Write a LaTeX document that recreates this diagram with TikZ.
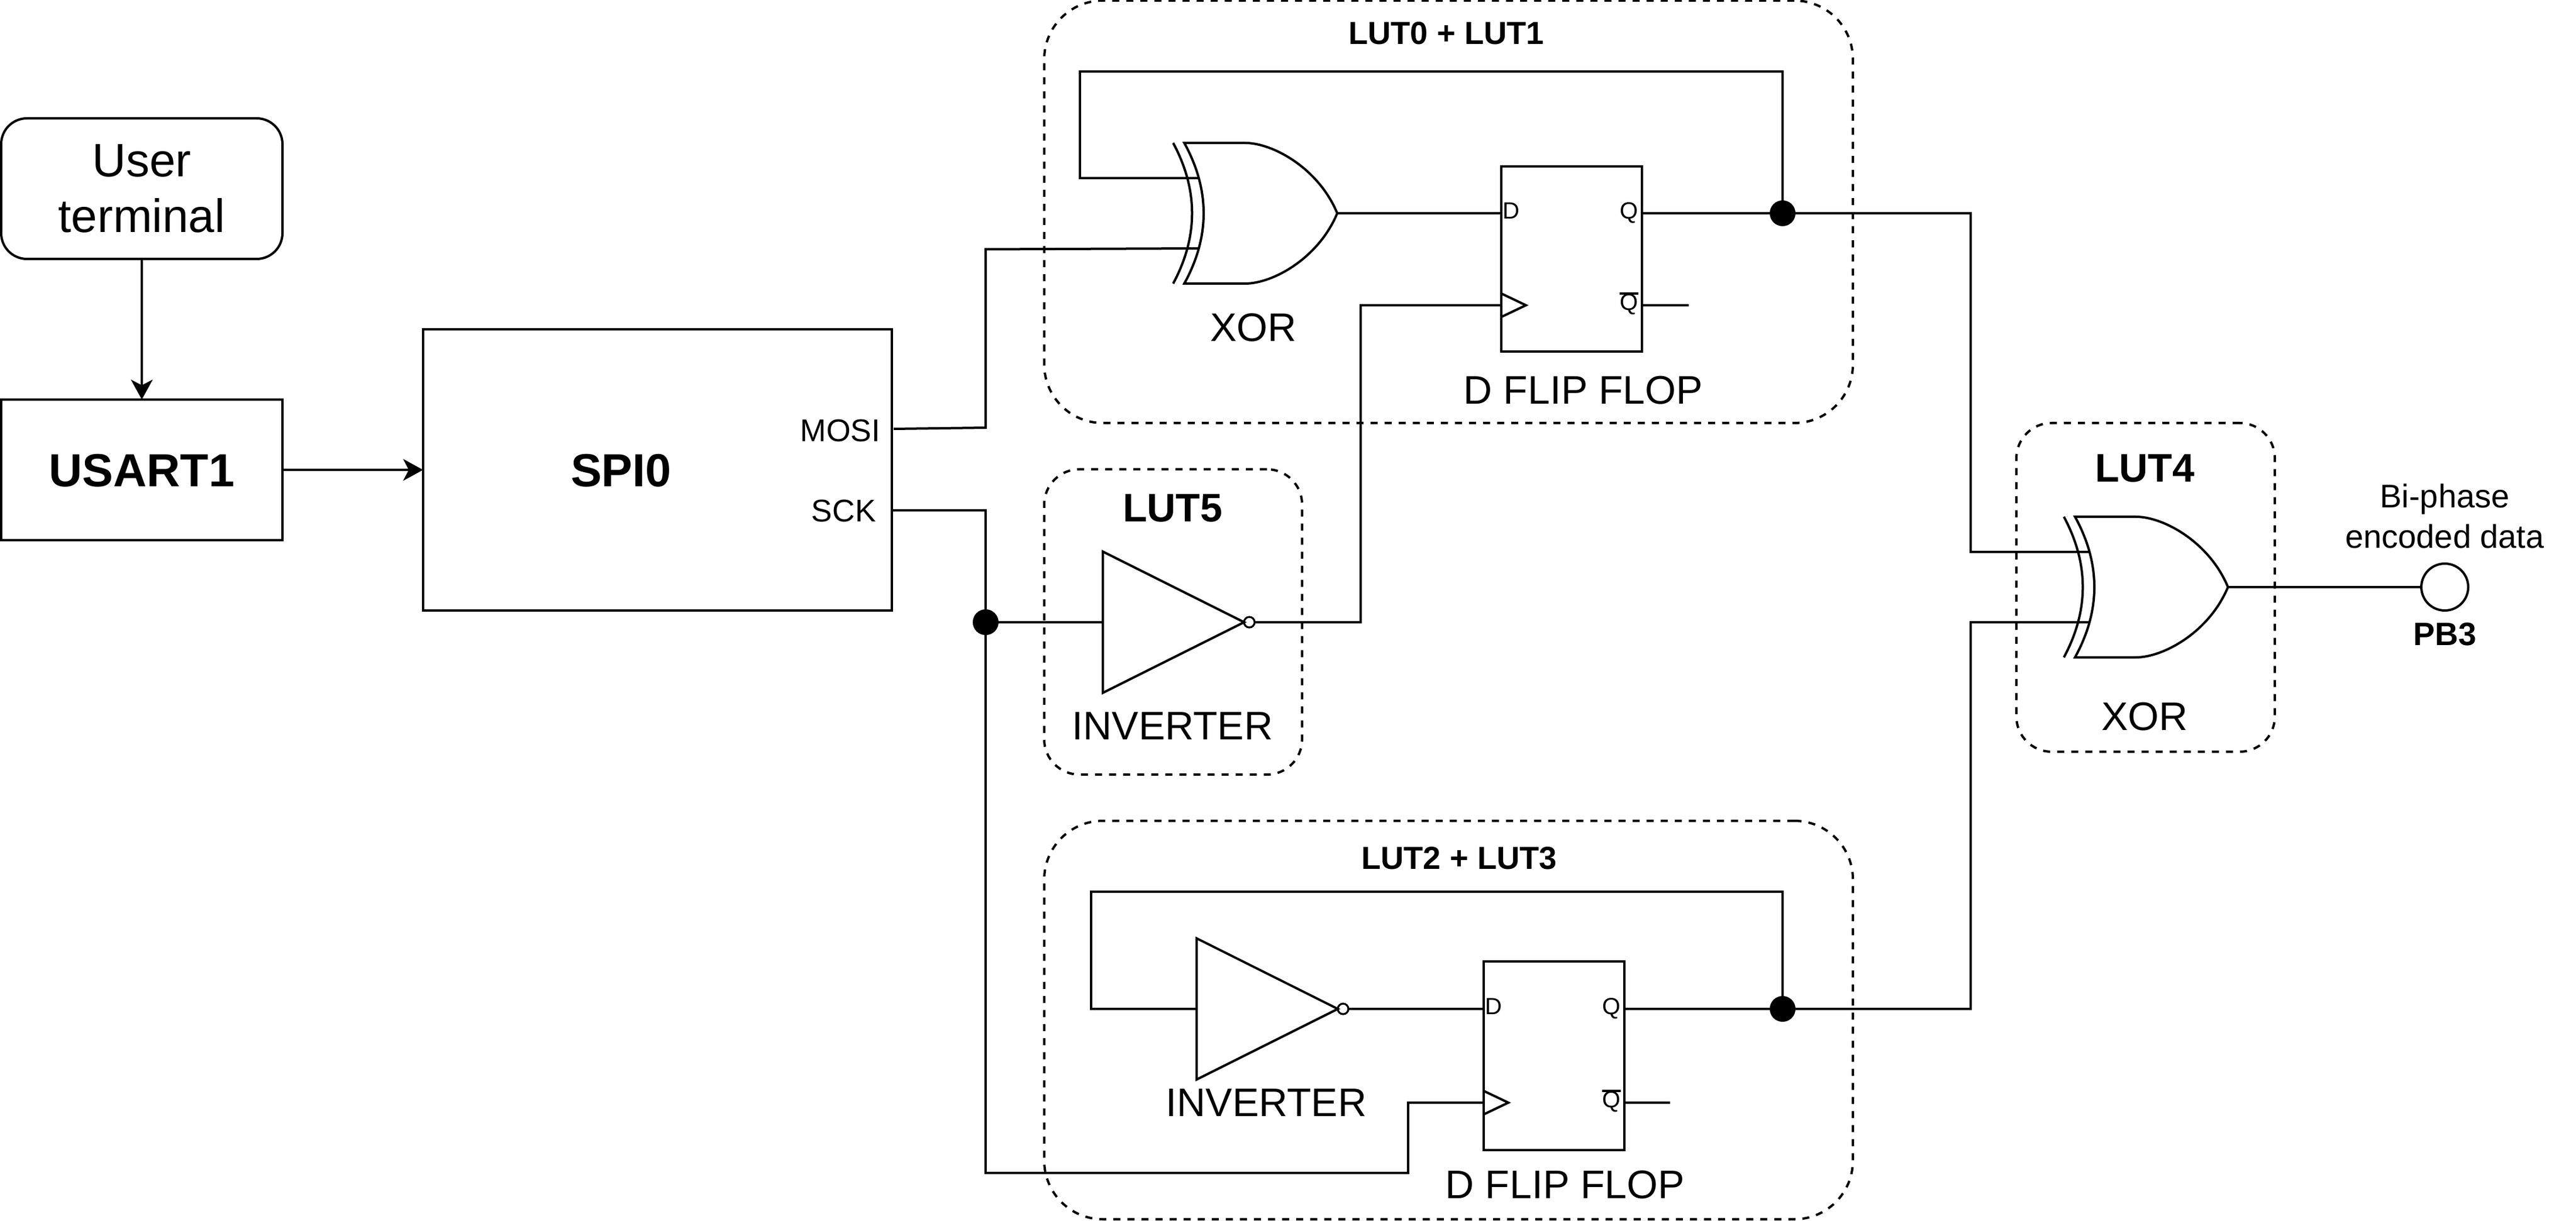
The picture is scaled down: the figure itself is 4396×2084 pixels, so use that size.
\documentclass[tikz,border=0pt]{standalone}
\usepackage{fontspec}
\setmainfont{Liberation Sans}
\usetikzlibrary{arrows.meta,calc}
\newcommand{\fsz}[1]{\fontsize{#1}{#1}\selectfont}
\newcommand{\barq}{\rlap{\rule[.65em]{.8em}{.1em}}Q}
\tikzset{
  wire/.style={line width=1pt,line join=miter},
  arr/.style={wire,-{Stealth[length=8.5pt,width=9.25pt,inset=2.4pt]}},
  solidbox/.style={draw,line width=1pt,inner sep=0pt,outer sep=0pt,align=center},
  groupbox/.style={draw,line width=1pt,inner sep=0pt,outer sep=0pt,dash pattern=on 3pt off 3pt},
  junction/.style={circle,fill=black,inner sep=0pt,outer sep=0pt,minimum size=11pt},
  padcircle/.style={circle,draw,line width=1pt,inner sep=0pt,outer sep=0pt,minimum size=20pt},
  big/.style={inner sep=0pt,text height=14.2pt,text depth=0pt,font=\fsz{19.8}\bfseries},
  grouptitle/.style={inner sep=0pt,yshift=.5pt,text height=12.17pt,text depth=0pt,font=\fsz{17}\bfseries},
  smalltitle/.style={inner sep=0pt,yshift=.5pt,text height=9.74pt,text depth=0pt,font=\fsz{13.6}\bfseries},
  gatelabel/.style={inner sep=0pt,yshift=.5pt,text height=12.17pt,text depth=0pt,font=\fsz{17}},
  portlabel/.style={inner sep=0pt,text height=9.6pt,text depth=0pt,font=\fsz{13.4}},
  pinlabel/.style={inner sep=0pt,text height=7.16pt,text depth=0pt,font=\fsz{10}},
  xorgate/.pic={
    \draw[wire,line join=miter] (-261,-120) -- (-157,-120) .. controls (-110,-120) and (-32,-77) .. (0,0)
      .. controls (-32,77) and (-110,120) .. (-157,120) -- (-261,120)
      .. controls (-217,40) and (-217,-40) .. cycle;
    \draw[wire] (-280,-120) .. controls (-237,-40) and (-237,40) .. (-280,120);
    \coordinate (-a) at (-237,-60);
    \coordinate (-b) at (-237,60);
    \coordinate (-out) at (0,0);
  },
  invgate/.pic={
    \draw[wire,line join=miter] (-241,-120.5) -- (0,0) -- (-241,120.5) -- cycle;
    \draw[line width=.8pt] (9,0) circle (9);
    \coordinate (-in) at (-241,0);
    \coordinate (-out) at (18,0);
  },
}
\begin{document}
\begin{tikzpicture}[x=0.25pt,y=-0.25pt]
\useasboundingbox (0,0) rectangle (4396,2084);
% main blocks
\node[solidbox,rounded corners=11pt,minimum width=120pt,minimum height=60pt,font=\fontsize{20}{23.9}\selectfont] (term) at (242,322) {User\\terminal};
\node[solidbox,big,minimum width=120pt,minimum height=60pt] (usart) at (242,802) {USART1};
\node[solidbox,minimum width=200pt,minimum height=120pt] (spi) at (1122,802) {};
\node[big] (spilabel) at (1060,802) {SPI0};
\node[portlabel] (mosilabel) at (1434,734) {MOSI};
\node[portlabel] (scklabel) at (1440,871) {SCK};
% groups
\node[groupbox,rounded corners=25pt,minimum width=345pt,minimum height=180.25pt] (g01) at (2472,361.5) {};
\node[groupbox,rounded corners=25pt,minimum width=345pt,minimum height=170pt] (g23) at (2472,1741) {};
\node[groupbox,rounded corners=15pt,minimum width=110pt,minimum height=130.25pt] (g5) at (2002,1061.5) {};
\node[groupbox,rounded corners=15pt,minimum width=110.25pt,minimum height=140.25pt] (g4) at (3661.5,1002.5) {};
\node[smalltitle] (t01) at (2468,58) {LUT0 + LUT1};
\node[smalltitle] (t23) at (2490,1466) {LUT2 + LUT3};
\node[grouptitle] (t5) at (2001,868) {LUT5};
\node[grouptitle] (t4) at (3660,800) {LUT4};
% gates
\pic (x1) at (2282,364) {xorgate};
\pic (x4) at (3802,1002) {xorgate};
\pic (i5) at (2123,1062) {invgate};
\pic (i2) at (2283,1722) {invgate};
\node[gatelabel] (lx1) at (2139,560) {XOR};
\node[gatelabel] (lx4) at (3660,1224) {XOR};
\node[gatelabel] (li5) at (2001,1240) {INVERTER};
\node[gatelabel] (li2) at (2161,1883) {INVERTER};
% flip flops
\node[solidbox,minimum width=60pt,minimum height=79pt] (ff1) at (2682,442) {};
\node[solidbox,minimum width=60pt,minimum height=80.5pt] (ff2) at (2652,1802) {};
\node[gatelabel] (lf1) at (2702,667) {D FLIP FLOP};
\node[gatelabel] (lf2) at (2671,2023) {D FLIP FLOP};
\node[pinlabel] (d1) at (2579,359) {D};
\node[pinlabel] (q1) at (2780,359) {Q};
\node[pinlabel] (nq1) at (2780,515) {\barq};
\node[pinlabel] (d2) at (2549,1717) {D};
\node[pinlabel] (q2) at (2750,1717) {Q};
\node[pinlabel] (nq2) at (2750,1876) {\barq};
\coordinate (c1) at (2562,521);
\coordinate (c2) at (2532,1882);
\draw[wire] ($(c1)+(0,-20)$) -- ($(c1)+(42,0)$) -- ($(c1)+(0,20)$);
\draw[wire] ($(c2)+(0,-20)$) -- ($(c2)+(42,0)$) -- ($(c2)+(0,20)$);
\coordinate (p1d) at (2562,364);
\coordinate (p1q) at (2802,364);
\coordinate (p1n) at (2802,521);
\coordinate (e1n) at (2882,521);
\coordinate (p2d) at (2532,1722);
\coordinate (p2q) at (2772,1722);
\coordinate (p2n) at (2772,1882);
\coordinate (e2n) at (2850,1882);
% junctions, pad
\node[junction] (jck) at (1682,1062) {};
\node[junction] (j1) at (3042,364) {};
\node[junction] (j2) at (3042,1722) {};
\node[padcircle] (pad) at (4172,1002) {};
\node[inner sep=0pt,align=center,font=\fontsize{14}{17.25}\selectfont] (bi) at (4172,881) {Bi-phase\\encoded data};
\node[inner sep=0pt,text height=9.9pt,text depth=0pt,font=\fsz{13.8}\bfseries] (pb3) at (4172,1082) {PB3};
% coordinates of routing
\coordinate (spimosi) at (1525,732);
\coordinate (mosib) at (1682,730);
\coordinate (mosit) at (1682,425.5);
\coordinate (spisck) at (1522,871);
\coordinate (bus) at (1682,2002);
\coordinate (clk1v) at (2322,521);
\coordinate (clk2v) at (2403,1882);
\coordinate (fb1) at (1843,122);
\coordinate (fb2) at (1862,1522);
\coordinate (outv) at (3363,364);
% connectors
\draw[arr] (term.south) -- (usart.north);
\draw[arr] (usart.east) -- (spi.west);
\draw[wire] (spimosi) -- (mosib) -- (mosit) -- (x1-b);
\draw[wire] (spisck) -- (bus |- spisck) -- (jck);
\draw[wire] (jck) -- (i5-in);
\draw[wire] (jck) -- (bus) -- (clk2v |- bus) -- (clk2v) -- (c2);
\draw[wire] (i5-out) -- (clk1v |- i5-out) -- (clk1v) -- (c1);
\draw[wire] (x1-out) -- (p1d);
\draw[wire] (p1q) -- (j1);
\draw[wire] (p1n) -- (e1n);
\draw[wire] (j1) -- (j1 |- fb1) -- (fb1) -- (fb1 |- x1-a) -- (x1-a);
\draw[wire] (i2-out) -- (p2d);
\draw[wire] (p2q) -- (j2);
\draw[wire] (p2n) -- (e2n);
\draw[wire] (j2) -- (j2 |- fb2) -- (fb2) -- (fb2 |- i2-in) -- (i2-in);
\draw[wire] (j1) -- (outv) -- (outv |- x4-a) -- (x4-a);
\draw[wire] (j2) -- (outv |- j2) -- (outv |- x4-b) -- (x4-b);
\draw[wire] (x4-out) -- (pad.west);
\end{tikzpicture}
\end{document}
